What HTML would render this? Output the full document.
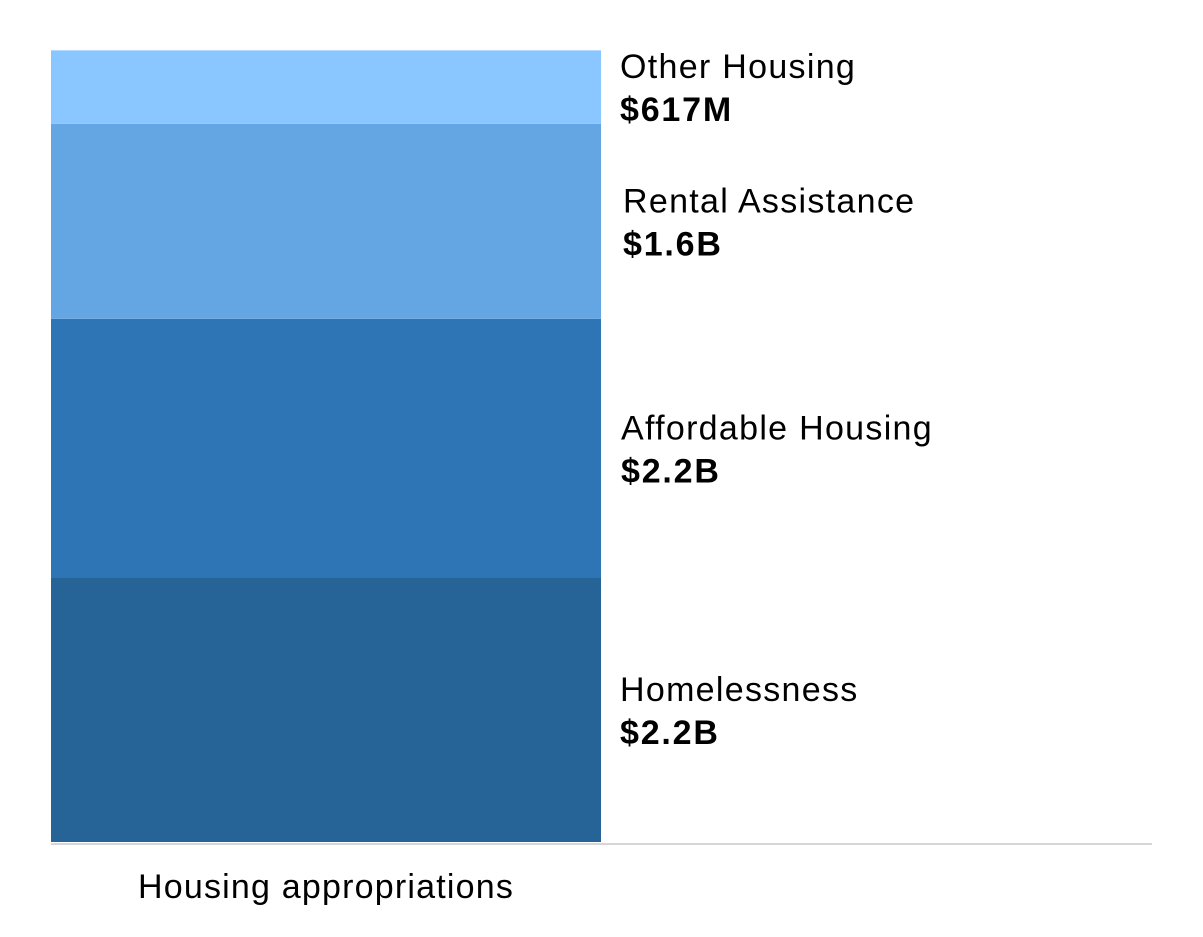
<!DOCTYPE html>
<html><head><meta charset="utf-8"><style>
html,body{margin:0;padding:0;background:#fff;}
svg{display:block;font-family:"Liberation Sans",Arial,sans-serif;}
</style></head><body>
<svg id="chart" width="1203" height="937" viewBox="0 0 1203 937">
<line x1="51" y1="844" x2="1152" y2="844" stroke="#d6d6d9" stroke-width="2"/>
<text x="138" y="898" font-size="34" letter-spacing="1.2" fill="#000">Housing appropriations</text>
<g id="bars"></g>
</svg>
<script>
const categories = ["Homelessness","Affordable Housing","Rental Assistance","Other Housing"];
const values = [2.2, 2.16, 1.625, 0.612];
const valueLabels = ["$2.2B","$2.2B","$1.6B","$617M"];
const colors = ["#266396","#2e75b6","#64a5e4","#8ac6ff"];
const labelX = [620,621,623,620];
const baseY = 842, pxPerUnit = 120, barX = 51, barW = 550;
function y(v){ return baseY - v*pxPerUnit; }
const g = document.getElementById('bars');
const ns = "http://www.w3.org/2000/svg";
let cum = 0;
for (let i=0;i<values.length;i++){
  const y0 = y(cum), y1 = y(cum+values[i]);
  const r = document.createElementNS(ns,'rect');
  r.setAttribute('x',barX); r.setAttribute('y',y1);
  r.setAttribute('width',barW); r.setAttribute('height',y0-y1);
  r.setAttribute('fill',colors[i]);
  
  
  g.appendChild(r);
  const c = (y0+y1)/2;
  const t1 = document.createElementNS(ns,'text');
  t1.setAttribute('x',labelX[i]); t1.setAttribute('y',c-9);
  t1.setAttribute('font-size','34'); t1.setAttribute('letter-spacing','1.3');
  t1.textContent = categories[i];
  
  
  g.appendChild(t1);
  const t2 = document.createElementNS(ns,'text');
  t2.setAttribute('x',labelX[i]); t2.setAttribute('y',c+34);
  t2.setAttribute('font-size','34'); t2.setAttribute('font-weight','bold');
  t2.setAttribute('letter-spacing','1.8');
  t2.textContent = valueLabels[i];
  
  
  g.appendChild(t2);
  cum += values[i];
}
</script>
</body></html>
